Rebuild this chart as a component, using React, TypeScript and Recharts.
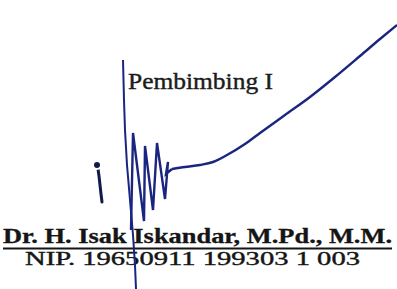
import { Line, LineChart, XAxis, YAxis } from "recharts";

type Pt = { x: number; y: number };

// signature strokes (pixel coordinates, y grows downwards)
const longStroke: Pt[] = [
  { x: 123, y: 60 },
  { x: 124, y: 100 },
  { x: 125, y: 130 },
  { x: 127, y: 165 },
  { x: 130, y: 200 },
  { x: 133, y: 235 },
  { x: 135, y: 265 },
  { x: 136, y: 289 },
];

const zigzagStroke: Pt[] = [
  { x: 131, y: 230 },
  { x: 133, y: 133 },
  { x: 144, y: 221 },
  { x: 145, y: 146 },
  { x: 153, y: 210 },
  { x: 157, y: 143 },
  { x: 165, y: 199 },
  { x: 168, y: 162 },
  { x: 166, y: 174 },
  { x: 172, y: 169 },
];

const tailStroke: Pt[] = [
  { x: 172, y: 169 },
  { x: 185, y: 167 },
  { x: 200, y: 165 },
  { x: 213, y: 162 },
  { x: 227, y: 155 },
  { x: 245, y: 144 },
  { x: 260, y: 133 },
  { x: 285, y: 115 },
  { x: 310, y: 97 },
  { x: 335, y: 77 },
  { x: 360, y: 56 },
  { x: 380, y: 39 },
  { x: 397, y: 25 },
];

const tickStroke: Pt[] = [
  { x: 97, y: 165 },
  { x: 98, y: 169 },
  { x: 99, y: 176 },
  { x: 100, y: 185 },
  { x: 101, y: 194 },
  { x: 102, y: 202 },
];

const titleText = "Pembimbing I";
const nameText = "Dr. H. Isak Iskandar, M.Pd., M.M.";
const idText = "NIP. 19650911 199303 1 003";

const ink = "#1a2580";
const serif = "Liberation Serif";

export default function App() {
  return (
    <div style={{ position: "fixed", left: 0, top: 0, background: "#fff" }}>
      <LineChart width={397} height={289} margin={{ top: 0, right: 0, bottom: 0, left: 0 }}>
        <XAxis type="number" dataKey="x" domain={[0, 397]} hide allowDataOverflow />
        <YAxis type="number" dataKey="y" domain={[0, 289]} reversed hide allowDataOverflow />

        <text x={128} y={89} fontFamily={serif} fontSize={23} fill="#1c1c1c" stroke="#1c1c1c" strokeWidth={0.4} textLength={145} lengthAdjust="spacingAndGlyphs">
          {titleText}
        </text>
        <text x={3} y={243} fontFamily={serif} fontWeight="bold" fontSize={21} fill="#151515" stroke="#151515" strokeWidth={0.3} textLength={389} lengthAdjust="spacingAndGlyphs">
          {nameText}
        </text>
        <line x1={3} x2={392} y1={248.5} y2={248.5} stroke="#151515" strokeWidth={2.2} />
        <text x={25} y={265} fontFamily={serif} fontSize={19.5} fill="#151515" stroke="#151515" strokeWidth={0.4} textLength={335} lengthAdjust="spacingAndGlyphs">
          {idText}
        </text>

        <Line data={longStroke} dataKey="y" type="linear" stroke={ink} strokeWidth={2} dot={false} isAnimationActive={false} />
        <Line data={zigzagStroke} dataKey="y" type="linear" stroke={ink} strokeWidth={2.4} dot={false} isAnimationActive={false} />
        <Line data={tailStroke} dataKey="y" type="monotone" stroke={ink} strokeWidth={2.4} dot={false} isAnimationActive={false} />
        <Line data={tickStroke} dataKey="y" type="linear" stroke="#111a4a" strokeWidth={3} strokeLinecap="round" dot={false} isAnimationActive={false} />
      </LineChart>
    </div>
  );
}
